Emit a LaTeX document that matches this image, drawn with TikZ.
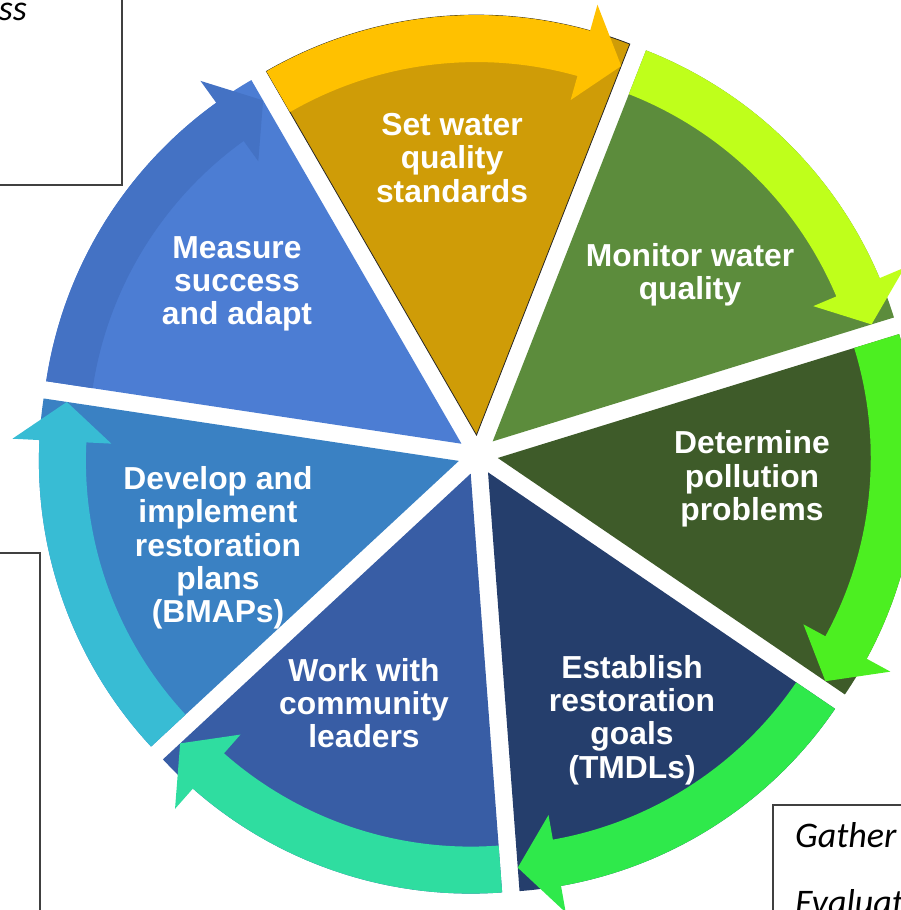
\documentclass[tikz,border=0pt]{standalone}
\usepackage{fontspec}
\setmainfont{Liberation Sans}
\newfontfamily\boxfont{Carlito}
\usetikzlibrary{calc}
\definecolor{wA}{HTML}{CF9C07}\definecolor{bA}{HTML}{FFC100}
\definecolor{wB}{HTML}{5C8C3C}\definecolor{bB}{HTML}{BFFF1B}
\definecolor{wC}{HTML}{3E5B29}\definecolor{bC}{HTML}{4CEF21}
\definecolor{wD}{HTML}{253E6C}\definecolor{bD}{HTML}{2FE94B}
\definecolor{wE}{HTML}{385DA5}\definecolor{bE}{HTML}{2FDDA0}
\definecolor{wF}{HTML}{3A81C3}\definecolor{bF}{HTML}{38BCD4}
\definecolor{wG}{HTML}{4C7DD3}\definecolor{bG}{HTML}{4472C4}
\begin{document}
\begin{tikzpicture}[x=1pt,y=1pt,
  lbl/.style={text=white, font=\fontsize{31.8}{33.3}\selectfont\bfseries, align=center, inner sep=0pt},
  boxline/.style={draw=black!75, line width=1.5pt},
  note/.style={font=\fontsize{36}{40}\selectfont\boxfont\itshape, inner sep=0pt}]
\useasboundingbox (0,0) rectangle (901,910);
\clip (0,0) rectangle (901,910);
\coordinate (C) at (478,455);
\foreach \k/\wc/\bc in {0/wA/bA,1/wB/bB,2/wC/bC,3/wD/bD,4/wE/bE,5/wF/bF,6/wG/bG}{
  \pgfmathsetmacro{\t}{94.3-51.4286*\k}
  \coordinate (O\k) at ($(C)+(\t:20pt)$);
  \ifnum\k=0
    \filldraw[fill=\wc, draw=black!85, line width=0.8pt] (O\k) -- ($(O\k)+(\t+25.71:420pt)$) arc[start angle=\t+25.71, end angle=\t-25.71, radius=420pt] -- cycle;
  \else
    \fill[\wc] (O\k) -- ($(O\k)+(\t+25.71:420pt)$) arc[start angle=\t+25.71, end angle=\t-25.71, radius=420pt] -- cycle;
  \fi
  \fill[\bc] ($(O\k)+(\t+25.71:420pt)$) arc[start angle=\t+25.71, end angle=\t-20, radius=420pt]
     -- ($(O\k)+(\t-20:447pt)$) -- ($(O\k)+(\t-25.71:396.5pt)$) -- ($(O\k)+(\t-20:348pt)$)
     -- ($(O\k)+(\t-20:373pt)$) arc[start angle=\t-20, end angle=\t+25.71, radius=373pt] -- cycle;
}
\node[lbl] (set) at (452,752) {Set water\\quality\\standards};
\node[lbl] (mon) at (690,635) {Monitor water\\quality};
\node[lbl] (det) at (752,431) {Determine\\pollution\\problems};
\node[lbl] (est) at (632,190) {Establish\\restoration\\goals\\(TMDLs)};
\node[lbl] (work) at (364,207) {Work with\\community\\leaders};
\node[lbl] (dev) at (218,362) {Develop and\\implement\\restoration\\plans\\(BMAPs)};
\node[lbl] (meas) at (237,626) {Measure\\success\\and adapt};
% partial text boxes
\draw[boxline] (-10,725) rectangle (122,925);
\node[note, anchor=base east] (ss) at (27,889) {ss};
\draw[boxline] (-10,-10) rectangle (40,357);
\draw[boxline] (773,-10) rectangle (925,105);
\node[note, anchor=base west] (gat) at (795,62) {Gather};
\node[note, anchor=base west] (eva) at (795,-5) {Evaluat};
\end{tikzpicture}
\end{document}
